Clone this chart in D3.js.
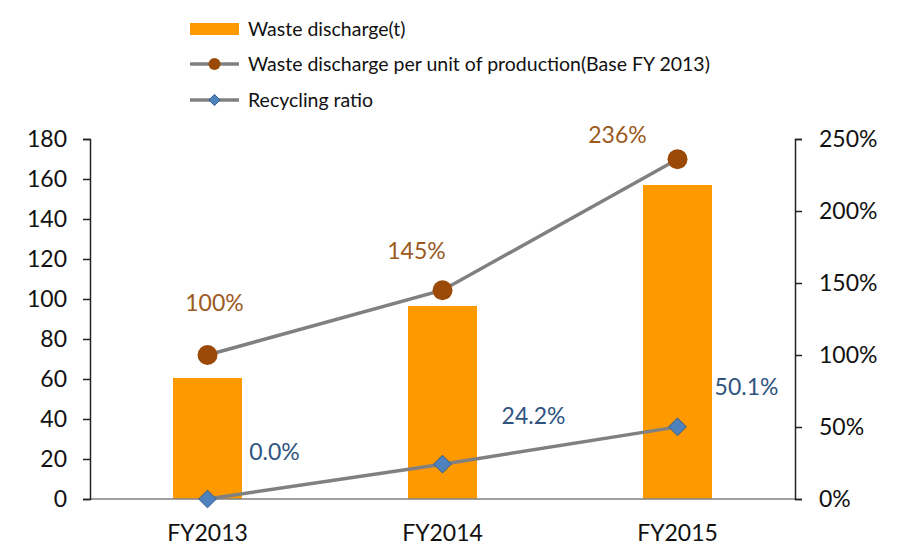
<!DOCTYPE html>
<html><head><meta charset="utf-8">
<script src="https://cdn.jsdelivr.net/npm/d3@7"></script>
<style>body{margin:0;background:#fff}text{font-family:Lato,"Open Sans",sans-serif}</style>
</head><body>
<svg id="c" width="907" height="546"></svg>
<script>
const categories = ["FY2013","FY2014","FY2015"];
const wasteDischarge = [60.5, 96.5, 157];
const perUnit = [100, 145, 236];
const perUnitLabels = ["100%","145%","236%"];
const recycling = [0.0, 24.2, 50.1];
const recyclingLabels = ["0.0%","24.2%","50.1%"];
const leftTicks = [0,20,40,60,80,100,120,140,160,180];
const rightTicks = [0,50,100,150,200,250];
const legendItems = ["Waste discharge(t)","Waste discharge per unit of production(Base FY 2013)","Recycling ratio"];

const svg = d3.select("#c");
const L = 90, R = 795, T = 139, B = 499;
const FS = 23;
const x = d3.scaleBand().domain(categories).range([L,R]);
const yL = d3.scaleLinear().domain([0,180]).range([B,T]);
const yR = d3.scaleLinear().domain([0,250]).range([B,T]);
const cx = c => x(c) + x.bandwidth()/2;

// bars
svg.selectAll("rect.bar").data(wasteDischarge).join("rect")
  .attr("x", (d,i)=>cx(categories[i]) - 34.5).attr("width", 69)
  .attr("y", d=>yL(d)).attr("height", d=>B - yL(d)).attr("fill","#FF9900");

// x axis line
svg.append("line").attr("x1",L).attr("x2",R).attr("y1",B).attr("y2",B).attr("stroke","#808080").attr("stroke-width",1.5);

// left axis
const gl = svg.append("g").attr("transform",`translate(${L},0)`)
  .call(d3.axisLeft(yL).tickValues(leftTicks).tickSize(7).tickPadding(16));
gl.select(".domain").attr("stroke","#222").attr("stroke-width",1.5);
gl.selectAll(".tick line").attr("stroke","#222").attr("stroke-width",1.5);
gl.selectAll("text").attr("font-size",FS).attr("fill","#111").attr("font-family","Lato,sans-serif");

// right axis
const gr = svg.append("g").attr("transform",`translate(${R},0)`)
  .call(d3.axisRight(yR).tickValues(rightTicks).tickFormat(d=>d+"%").tickSize(7).tickPadding(17));
gr.select(".domain").attr("stroke","#222").attr("stroke-width",1.5);
gr.selectAll(".tick line").attr("stroke","#222").attr("stroke-width",1.5);
gr.selectAll("text").attr("font-size",FS).attr("fill","#111").attr("font-family","Lato,sans-serif");

// category labels
svg.selectAll("text.cat").data(categories).join("text")
  .attr("x", d=>cx(d)).attr("y", 541).attr("text-anchor","middle")
  .attr("font-size",FS).attr("fill","#111").text(d=>d);

const line = d3.line();
svg.append("path").attr("d", line(perUnit.map((d,i)=>[cx(categories[i]), yR(d)])))
  .attr("fill","none").attr("stroke","#808080").attr("stroke-width",3.5);
svg.append("path").attr("d", line(recycling.map((d,i)=>[cx(categories[i]), yR(d)])))
  .attr("fill","none").attr("stroke","#808080").attr("stroke-width",3.5);

svg.selectAll("circle.pu").data(perUnit).join("circle")
  .attr("cx",(d,i)=>cx(categories[i])).attr("cy",d=>yR(d)).attr("r",10).attr("fill","#9A4A06");

const dia = d3.symbol().type(d3.symbolDiamond2).size(200);
svg.selectAll("path.rc").data(recycling).join("path")
  .attr("d", dia).attr("transform",(d,i)=>`translate(${cx(categories[i])},${yR(d)})`)
  .attr("fill","#4F81BD").attr("stroke","#2F5B8F").attr("stroke-width",1);

// data labels
const puOff = [[7,-44],[-26,-31],[-60,-16]];
svg.selectAll("text.pul").data(perUnitLabels).join("text")
  .attr("x",(d,i)=>cx(categories[i])+puOff[i][0]).attr("y",(d,i)=>yR(perUnit[i])+puOff[i][1])
  .attr("text-anchor","middle").attr("font-size",FS).attr("fill","#9C5A1E").text(d=>d);
const rcOff = [[67,-39],[91,-40],[69,-32]];
svg.selectAll("text.rcl").data(recyclingLabels).join("text")
  .attr("x",(d,i)=>cx(categories[i])+rcOff[i][0]).attr("y",(d,i)=>yR(recycling[i])+rcOff[i][1])
  .attr("text-anchor","middle").attr("font-size",FS).attr("fill","#2F5480").text(d=>d);

// legend
const lg = svg.append("g");
lg.append("rect").attr("x",190).attr("y",23).attr("width",49).attr("height",12).attr("fill","#FF9900");
lg.append("line").attr("x1",190).attr("x2",239).attr("y1",64).attr("y2",64).attr("stroke","#808080").attr("stroke-width",3.5);
lg.append("circle").attr("cx",214.5).attr("cy",64).attr("r",6).attr("fill","#9A4A06");
lg.append("line").attr("x1",190).attr("x2",239).attr("y1",100).attr("y2",100).attr("stroke","#808080").attr("stroke-width",3.5);
lg.append("path").attr("d", d3.symbol().type(d3.symbolDiamond2).size(80)).attr("transform","translate(214.5,100)")
  .attr("fill","#4F81BD").attr("stroke","#2F5B8F").attr("stroke-width",1);
lg.selectAll("text").data(legendItems).join("text")
  .attr("x",248).attr("y",(d,i)=>[36,71,107][i]).attr("font-size",19.5).attr("fill","#111").text(d=>d);
</script>
</body></html>
